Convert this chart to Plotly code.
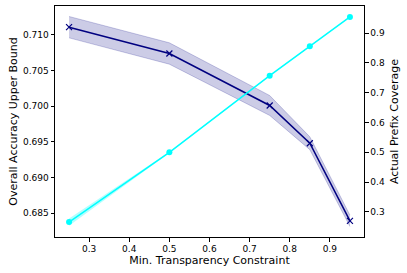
import plotly.graph_objects as go

x = [0.25, 0.5, 0.75, 0.85, 0.95]
acc_mean = [0.7111, 0.7074, 0.7001, 0.6948, 0.6839]
acc_std = [0.0015, 0.0015, 0.0014, 0.0009, 0.0008]
cov_mean = [0.266, 0.500, 0.757, 0.856, 0.954]
cov_std = [0.012, 0.002, 0.001, 0.001, 0.001]

left_ticks = [0.685, 0.690, 0.695, 0.700, 0.705, 0.710]
right_ticks = [0.3, 0.4, 0.5, 0.6, 0.7, 0.8, 0.9]
x_ticks = [0.3, 0.4, 0.5, 0.6, 0.7, 0.8, 0.9]

navy = "#000080"
band = "rgba(0,0,128,0.2)"
cyan = "#00ffff"
cyan_band = "rgba(0,255,255,0.3)"

fig = go.Figure()
fig.add_trace(go.Scatter(x=x, y=[m + s for m, s in zip(acc_mean, acc_std)], mode="lines",
                         line=dict(color="rgba(0,0,128,0.25)", width=0.8), showlegend=False, yaxis="y"))
fig.add_trace(go.Scatter(x=x, y=[m - s for m, s in zip(acc_mean, acc_std)], mode="lines",
                         line=dict(color="rgba(0,0,128,0.25)", width=0.8), fill="tonexty", fillcolor=band,
                         showlegend=False, yaxis="y"))
fig.add_trace(go.Scatter(x=x, y=acc_mean, mode="lines+markers", line=dict(color=navy, width=1.5),
                         marker=dict(symbol="x-thin", size=6, line=dict(color=navy, width=1.2)),
                         showlegend=False, yaxis="y"))

fig.add_trace(go.Scatter(x=x, y=[m + s for m, s in zip(cov_mean, cov_std)], mode="lines",
                         line=dict(color="rgba(0,255,255,0)", width=0), showlegend=False, yaxis="y2"))
fig.add_trace(go.Scatter(x=x, y=[m - s for m, s in zip(cov_mean, cov_std)], mode="lines",
                         line=dict(color="rgba(0,255,255,0)", width=0), fill="tonexty", fillcolor=cyan_band,
                         showlegend=False, yaxis="y2"))
fig.add_trace(go.Scatter(x=x, y=cov_mean, mode="lines+markers", line=dict(color=cyan, width=1.5),
                         marker=dict(symbol="circle", size=6, color=cyan),
                         showlegend=False, yaxis="y2"))

axis_common = dict(showline=True, linecolor="black", linewidth=1, ticks="outside", ticklen=3.5,
                   tickwidth=0.8, tickcolor="black", showgrid=False, zeroline=False, automargin=False,
                   tickfont=dict(family="DejaVu Sans", size=9, color="black"))

fig.update_layout(
    width=407, height=273,
    margin=dict(l=55, r=43, t=6, b=36),
    plot_bgcolor="white", paper_bgcolor="white",
    font=dict(family="DejaVu Sans", size=9, color="black"),
    xaxis=dict(range=[0.215, 0.985], tickvals=x_ticks, ticktext=[f"{v:.1f}" for v in x_ticks],
               mirror=True, title=dict(text="Min. Transparency Constraint", standoff=1,
                                       font=dict(size=11, color="black")), **axis_common),
    yaxis=dict(range=[0.68163, 0.71407], tickvals=left_ticks, ticktext=[f"{v:.3f}" for v in left_ticks],
               title=dict(text="Overall Accuracy Upper Bound", standoff=3, font=dict(size=11, color="black")),
               **axis_common),
    yaxis2=dict(range=[0.216, 0.9906], tickvals=right_ticks, ticktext=[f"{v:.1f}" for v in right_ticks],
                overlaying="y", side="right",
                title=dict(text="Actual Prefix Coverage", standoff=6, font=dict(size=11, color="black")),
                **axis_common),
)

fig.write_html("out.html", config={"displayModeBar": False},
               post_script="document.body.style.margin='0';document.body.style.padding='0';")
